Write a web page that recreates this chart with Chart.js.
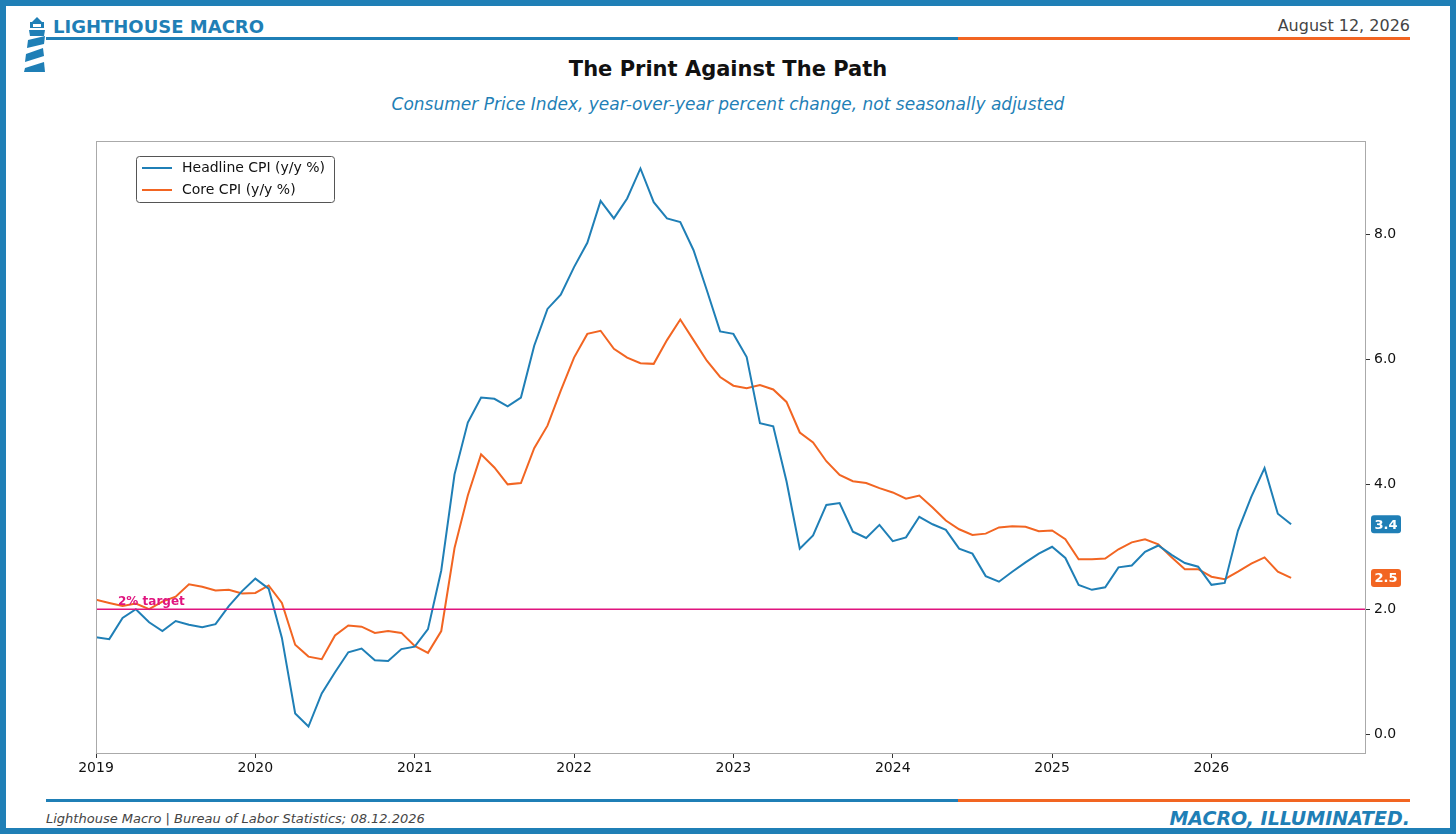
<!DOCTYPE html>
<html><head><meta charset="utf-8">
<script src="https://cdn.jsdelivr.net/npm/chart.js@4/dist/chart.umd.min.js"></script>
<style>
html,body{margin:0;padding:0;background:#fff;font-family:"DejaVu Sans",sans-serif;}
#page{position:relative;width:1456px;height:834px;box-sizing:border-box;border:6px solid #1f7fb6;overflow:hidden;}
.abs{position:absolute;white-space:nowrap;}
#wrap{position:absolute;left:34px;top:119px;width:1380px;height:655px;}
</style></head><body>
<div id="page">
  <svg class="abs" style="left:16px;top:10px" width="30" height="62" viewBox="0 0 30 62">
    <polygon points="10,6 15,1 20,6" fill="#1f7fb6"/>
    <rect x="8" y="6" width="14" height="6" fill="#1f7fb6"/>
    <rect x="11" y="8" width="8" height="3" fill="#fff"/>
    <polygon points="7,14 23,14 22,20 8,20" fill="#1f7fb6"/>
    <polygon points="6,24 23,20 22,28 5,32" fill="#1f7fb6"/>
    <polygon points="4,38 21,32 22,40 3,46" fill="#1f7fb6"/>
    <polygon points="3,52 22,46 23,56 2,56" fill="#1f7fb6"/>
  </svg>
  <div class="abs" style="left:47px;top:10px;font-size:18px;font-weight:bold;color:#1f7fb6;">LIGHTHOUSE MACRO</div>
  <div class="abs" style="right:40px;top:10px;font-size:16px;color:#444;">August 12, 2026</div>
  <div class="abs" style="left:40px;top:31px;width:912px;height:3px;background:#1f7fb6"></div>
  <div class="abs" style="left:952px;top:31px;width:452px;height:3px;background:#f26522"></div>
  <div class="abs" style="left:0;width:1444px;top:51px;text-align:center;font-size:21px;font-weight:bold;color:#111;">The Print Against The Path</div>
  <div class="abs" style="left:0;width:1444px;top:88px;text-align:center;font-size:17px;font-style:italic;color:#1f7fb6;">Consumer Price Index, year-over-year percent change, not seasonally adjusted</div>
  <div id="wrap"><canvas id="c"></canvas></div>
  <div class="abs" style="left:40px;top:793px;width:912px;height:3px;background:#1f7fb6"></div>
  <div class="abs" style="left:952px;top:793px;width:452px;height:3px;background:#f26522"></div>
  <div class="abs" style="left:40px;top:805px;font-size:13px;font-style:italic;color:#444;">Lighthouse Macro | Bureau of Labor Statistics; 08.12.2026</div>
  <div class="abs" style="right:40px;top:801px;font-size:19px;font-style:italic;font-weight:bold;color:#1f7fb6;">MACRO, ILLUMINATED.</div>
</div>
<script>
const startYear = 2019;
const headline = [
 1.55,1.52,1.86,2.0,1.79,1.65,1.81,1.75,1.71,1.76,2.05,2.29,
 2.49,2.33,1.54,0.33,0.12,0.65,0.99,1.31,1.37,1.18,1.17,1.36,
 1.4,1.68,2.62,4.16,4.99,5.39,5.37,5.25,5.39,6.22,6.81,7.04,
 7.48,7.87,8.54,8.26,8.58,9.06,8.52,8.26,8.2,7.75,7.11,6.45,
 6.41,6.04,4.98,4.93,4.05,2.97,3.18,3.67,3.7,3.24,3.14,3.35,
 3.09,3.15,3.48,3.36,3.27,2.97,2.89,2.53,2.44,2.6,2.75,2.89,
 3.0,2.82,2.39,2.31,2.35,2.67,2.7,2.92,3.02,2.87,2.74,2.68,
 2.39,2.42,3.26,3.8,4.26,3.53,3.36];
const core = [
 2.15,2.1,2.05,2.09,2.0,2.12,2.2,2.4,2.36,2.3,2.31,2.25,
 2.26,2.38,2.1,1.43,1.24,1.2,1.58,1.74,1.72,1.62,1.65,1.62,
 1.41,1.3,1.65,2.98,3.82,4.48,4.27,4.0,4.02,4.58,4.94,5.5,
 6.03,6.41,6.46,6.17,6.03,5.94,5.93,6.31,6.64,6.31,5.98,5.72,
 5.58,5.54,5.59,5.52,5.32,4.83,4.67,4.37,4.15,4.05,4.02,3.94,
 3.87,3.77,3.82,3.63,3.42,3.28,3.19,3.21,3.31,3.33,3.32,3.25,
 3.26,3.12,2.8,2.8,2.81,2.96,3.07,3.12,3.04,2.83,2.64,2.64,
 2.52,2.48,2.6,2.73,2.83,2.6,2.5];
const yearTicks = [2019,2020,2021,2022,2023,2024,2025,2026];
const yTicks = [0,2,4,6,8];
const target = 2;
const seriesNames = ["Headline CPI (y/y %)","Core CPI (y/y %)"];
const BLUE="#1f7fb6", ORANGE="#f26522", PINK="#e0147f";
const toPts = a => a.map((v,i)=>({x:startYear+i/12,y:v}));

const deco = {
  id:'deco',
  afterDatasetsDraw(ch){
    const {ctx,chartArea:a,scales:{x,y}} = ch;
    ctx.save();
    // target line
    const ty=y.getPixelForValue(target);
    ctx.strokeStyle=PINK;ctx.lineWidth=1.5;
    ctx.beginPath();ctx.moveTo(a.left,ty);ctx.lineTo(a.right,ty);ctx.stroke();
    ctx.fillStyle=PINK;ctx.font='bold 12px "DejaVu Sans"';ctx.textBaseline='bottom';
    ctx.fillText('2% target',a.left+22,ty-1);
    // frame
    ctx.strokeStyle='#aaa';ctx.lineWidth=1;
    ctx.strokeRect(a.left+0.5,a.top+0.5,a.width-1,a.height-1);
    // legend
    const lx=a.left+40,ly=a.top+15;
    ctx.fillStyle='rgba(255,255,255,0.9)';ctx.strokeStyle='#555';
    ctx.beginPath();ctx.roundRect(lx+0.5,ly+0.5,198,46,3);ctx.fill();ctx.stroke();
    ctx.font='14px "DejaVu Sans"';ctx.textBaseline='middle';
    [BLUE,ORANGE].forEach((c,i)=>{
      const yy=ly+12+i*22;
      ctx.strokeStyle=c;ctx.lineWidth=2;
      ctx.beginPath();ctx.moveTo(lx+6,yy);ctx.lineTo(lx+36,yy);ctx.stroke();
      ctx.fillStyle='#111';ctx.fillText(seriesNames[i],lx+46,yy);
    });
    // end labels
    [[headline,BLUE],[core,ORANGE]].forEach(([arr,c])=>{
      const v=arr[arr.length-1];const py=y.getPixelForValue(v);
      const bx=a.right+5;
      ctx.fillStyle=c;ctx.beginPath();ctx.roundRect(bx,py-9,30,18,3);ctx.fill();
      ctx.fillStyle='#fff';ctx.font='bold 13px "DejaVu Sans"';ctx.textAlign='center';ctx.textBaseline='middle';
      ctx.fillText(v.toFixed(1),bx+15,py+1);ctx.textAlign='left';
    });
    ctx.restore();
  }
};

new Chart(document.getElementById('c'),{
  type:'line',
  data:{datasets:[
    {label:seriesNames[0],data:toPts(headline),borderColor:BLUE,borderWidth:2,pointRadius:0,tension:0},
    {label:seriesNames[1],data:toPts(core),borderColor:ORANGE,borderWidth:2,pointRadius:0,tension:0}
  ]},
  options:{
    responsive:true,maintainAspectRatio:false,animation:false,
    layout:{padding:{left:56,top:16,right:0,bottom:0}},
    plugins:{legend:{display:false},tooltip:{enabled:false}},
    scales:{
      x:{type:'linear',min:2019,max:2026.97,
        afterBuildTicks:s=>{s.ticks=yearTicks.map(v=>({value:v}));},
        afterFit:s=>{s.height=26;},
        grid:{drawOnChartArea:false,tickLength:4,color:'#333'},border:{display:false},
        ticks:{color:'#111',font:{size:14,family:'DejaVu Sans'},maxRotation:0,padding:2,callback:v=>String(v)}},
      y:{position:'right',min:-0.32,max:9.5,
        afterBuildTicks:s=>{s.ticks=yTicks.map(v=>({value:v}));},
        afterFit:s=>{s.width=54;},
        grid:{drawOnChartArea:false,tickLength:4,color:'#333'},border:{display:false},
        ticks:{color:'#111',font:{size:14,family:'DejaVu Sans'},padding:4,callback:v=>v.toFixed(1)}}
    }
  },
  plugins:[deco]
});
</script>
</body></html>
